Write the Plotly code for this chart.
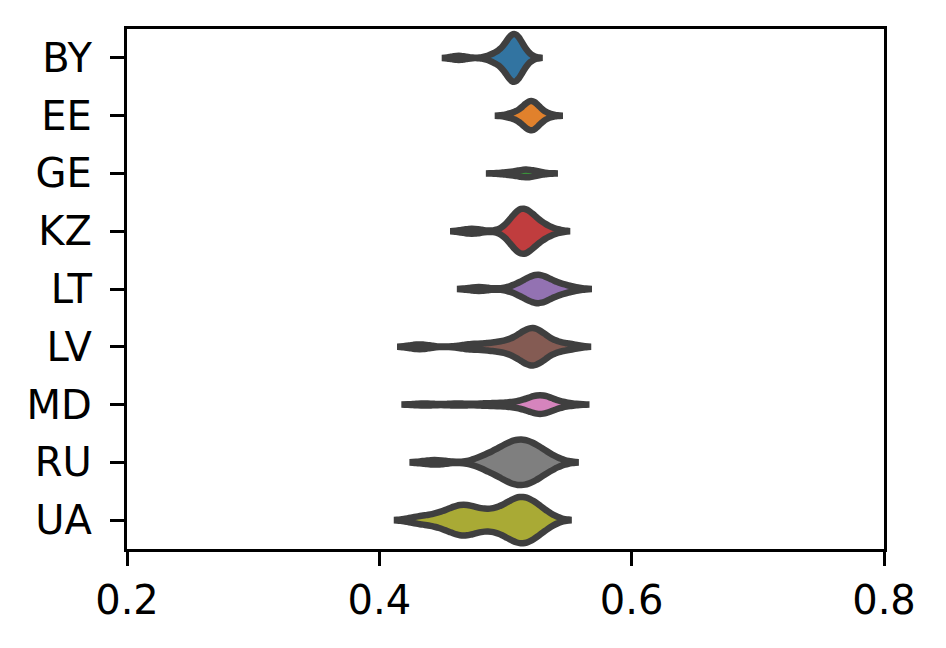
import plotly.graph_objects as go

countries = ["BY", "EE", "GE", "KZ", "LT", "LV", "MD", "RU", "UA"]

BY = [0.463, 0.490, 0.495, 0.499, 0.502, 0.504, 0.505, 0.506, 0.5065, 0.507,
      0.507, 0.5075, 0.508, 0.509, 0.510, 0.512, 0.516]
EE = [0.505, 0.512, 0.515, 0.517, 0.519, 0.520, 0.521, 0.521, 0.5215, 0.522,
      0.523, 0.525, 0.532]
GE = [0.499, 0.505, 0.510, 0.513, 0.515, 0.516, 0.517, 0.518, 0.520, 0.523,
      0.527]
KZ = [0.4734, 0.505, 0.508, 0.510, 0.511, 0.512, 0.513, 0.514, 0.516, 0.518,
      0.520, 0.523, 0.527, 0.534]
LT = [0.479, 0.508, 0.514, 0.518, 0.521, 0.523, 0.525, 0.526, 0.528, 0.530,
      0.533, 0.537, 0.542, 0.551]
LV = [0.432, 0.472, 0.487, 0.497, 0.505, 0.510, 0.514, 0.517, 0.519, 0.521,
      0.522, 0.523, 0.525, 0.528, 0.532, 0.538, 0.550]
MD = [0.436, 0.462, 0.484, 0.498, 0.508, 0.514, 0.519, 0.522, 0.524, 0.526,
      0.527, 0.528, 0.529, 0.530, 0.532, 0.535, 0.539, 0.548]
RU = [0.444, 0.481, 0.487, 0.492, 0.496, 0.499, 0.502, 0.504, 0.506, 0.508,
      0.510, 0.512, 0.514, 0.516, 0.518, 0.520, 0.522, 0.525, 0.528, 0.532,
      0.538]
UA = [0.431, 0.444, 0.452, 0.458, 0.462, 0.465, 0.468, 0.471, 0.475, 0.481,
      0.487, 0.493, 0.498, 0.502, 0.505, 0.508, 0.510, 0.512, 0.514, 0.516,
      0.518, 0.521, 0.524, 0.528, 0.533]

samples = {"BY": BY, "EE": EE, "GE": GE, "KZ": KZ, "LT": LT,
           "LV": LV, "MD": MD, "RU": RU, "UA": UA}

# KDE bandwidth per country
bandwidth = {"BY": 0.0055, "EE": 0.0055, "GE": 0.006, "KZ": 0.0074, "LT": 0.0075,
             "LV": 0.0077, "MD": 0.008, "RU": 0.0088, "UA": 0.0085}
# relative sample count (violin width scaling, seaborn scale="count")
rel_count = {"BY": 1.0, "EE": 0.605, "GE": 0.16, "KZ": 0.94, "LT": 0.59,
             "LV": 0.78, "MD": 0.39, "RU": 0.95, "UA": 0.965}

colors = {"BY": "#3274a1", "EE": "#e1812c", "GE": "#3a923a", "KZ": "#c03d3e",
          "LT": "#9372b2", "LV": "#845b53", "MD": "#d684bd", "RU": "#7f7f7f",
          "UA": "#a9aa35"}

x_ticks = [0.2, 0.4, 0.6, 0.8]

fig = go.Figure()
for c in countries:
    vals = samples[c]
    fig.add_trace(go.Violin(
        x=vals, y=[c] * len(vals), orientation="h", name=c,
        fillcolor=colors[c], line=dict(color="#3f3f3f", width=6.5),
        box_visible=False, meanline_visible=False, points=False,
        bandwidth=bandwidth[c], spanmode="soft",
        scalemode="width", scalegroup=c, width=0.83 * rel_count[c],
        opacity=1, hoverinfo="skip",
    ))

fig.update_layout(
    width=946, height=648,
    margin=dict(l=127, r=62, t=29, b=99),
    paper_bgcolor="white", plot_bgcolor="white",
    showlegend=False, violinmode="overlay",
    font=dict(family="DejaVu Sans", size=40, color="black"),
)
fig.update_xaxes(
    range=[0.2, 0.8], tickvals=x_ticks, ticktext=[f"{t:.1f}" for t in x_ticks],
    showgrid=False, zeroline=False,
    showline=True, linecolor="black", linewidth=3.3, mirror=True,
    ticks="outside", ticklen=14, tickwidth=3.3, tickcolor="black",
)
fig.update_yaxes(
    type="category", categoryorder="array", categoryarray=countries,
    range=[8.5, -0.5],
    showgrid=False, zeroline=False,
    showline=True, linecolor="black", linewidth=3.3, mirror=True,
    ticks="outside", ticklen=14, tickwidth=3.3, tickcolor="black",
    ticklabelstandoff=10,
)
fig.write_html("out.html")
